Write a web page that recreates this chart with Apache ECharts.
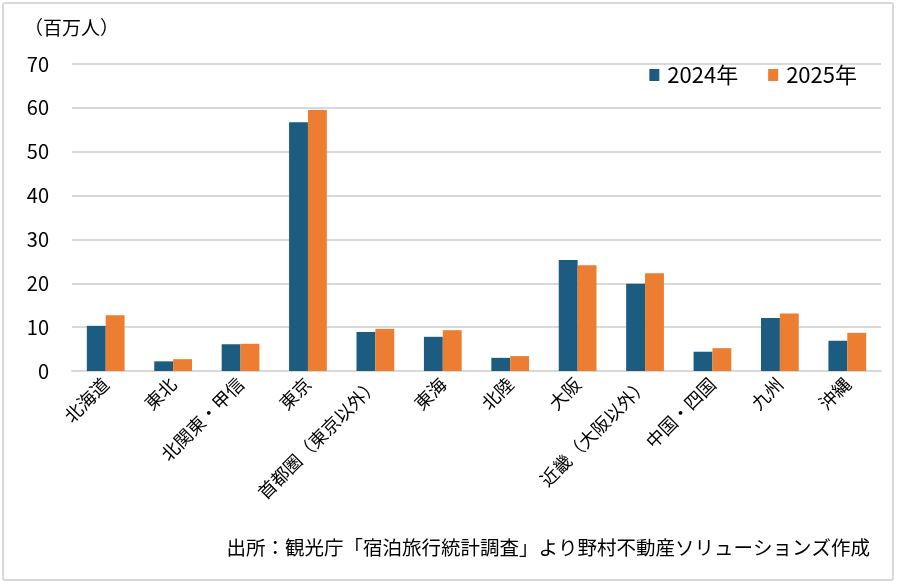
<!DOCTYPE html>
<html>
<head>
<meta charset="utf-8">
<script src="https://cdn.jsdelivr.net/npm/echarts@6/dist/echarts.min.js"></script>
<style>
  html, body { margin: 0; padding: 0; background: #fff; }
  .com-container {
    position: absolute; left: 2px; top: 2px; width: 892px; height: 579px;
    border: 2px solid #d9d9d9; border-radius: 3px; box-sizing: border-box;
  }
  .com-chart { width: 900px; height: 587px; position: absolute; left: -4px; top: -4px; }
</style>
</head>
<body>
<div class="com-container">
  <div class="com-chart" id="main"></div>
</div>
<script>
  const categories = ['北海道', '東北', '北関東・甲信', '東京', '首都圏（東京以外）', '東海', '北陸', '大阪', '近畿（大阪以外）', '中国・四国', '九州', '沖縄']
  const data2024 = [10.3, 2.2, 6.1, 56.7, 8.9, 7.8, 3.0, 25.3, 19.9, 4.4, 12.1, 6.9]
  const data2025 = [12.7, 2.7, 6.2, 59.5, 9.6, 9.3, 3.4, 24.1, 22.3, 5.2, 13.1, 8.7]
  const seriesNames = ['2024年', '2025年']

  const font = '"Noto Sans CJK JP", sans-serif'
  const chart = echarts.init(document.getElementById('main'))
  chart.setOption({
    backgroundColor: 'transparent',
    textStyle: { fontFamily: font },
    graphic: [
      { type: 'text', left: 24, top: 18, style: { text: '（百万人）', fontSize: 19, fill: '#000', fontFamily: font } },
      { type: 'text', right: 30, top: 538, style: { text: '出所：観光庁「宿泊旅行統計調査」より野村不動産ソリューションズ作成', fontSize: 19.5, fill: '#000', fontFamily: font } }
    ],
    legend: {
      data: seriesNames,
      right: 38,
      top: 59,
      itemWidth: 10,
      itemHeight: 12,
      itemGap: 30,
      icon: 'rect',
      textStyle: { color: '#000', fontSize: 22, fontFamily: font, padding: [0, 0, 0, 3] }
    },
    grid: { left: 72, right: 19, top: 64, bottom: 216, containLabel: false },
    xAxis: {
      type: 'category',
      data: categories,
      axisLine: { lineStyle: { color: '#d9d9d9', width: 2 } },
      axisTick: { show: false },
      axisLabel: { color: '#000', fontSize: 18, rotate: 45, interval: 0, margin: 10, fontFamily: font }
    },
    yAxis: {
      type: 'value',
      min: 0,
      max: 70,
      interval: 10,
      axisLine: { show: false },
      axisTick: { show: false },
      splitLine: { lineStyle: { color: '#d9d9d9', width: 2 } },
      axisLabel: { color: '#000', fontSize: 20, margin: 23, fontFamily: font }
    },
    series: [
      { name: seriesNames[0], type: 'bar', data: data2024, barGap: '0%', barCategoryGap: '44%', itemStyle: { color: '#1b5c80' } },
      { name: seriesNames[1], type: 'bar', data: data2025, itemStyle: { color: '#ed7d31' } }
    ]
  })
</script>
</body>
</html>
